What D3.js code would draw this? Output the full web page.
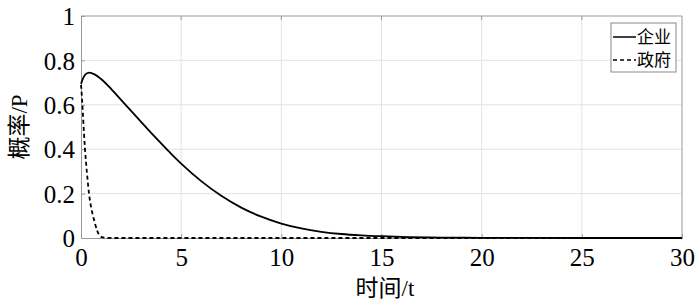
<!DOCTYPE html>
<html>
<head>
<meta charset="utf-8">
<script src="https://cdn.jsdelivr.net/npm/d3@7"></script>
<style>
  body { margin: 0; background: #fff; }
  svg text { fill: #000; }
  .serif { font-family: "Liberation Serif", "DejaVu Serif", "Times New Roman", serif; }
  .cjk { font-family: "Noto Sans CJK SC", sans-serif; }
</style>
</head>
<body>
<svg width="700" height="306"></svg>
<script>
// 企业 (company) probability over time
var tCompany = [0, 0.2, 0.4, 0.7, 1, 1.5, 2, 2.5, 3, 3.5, 4, 4.5, 5, 6, 7, 8, 9, 10, 11, 12, 13, 14, 15, 16, 18, 20, 25, 30];
var company = [0.695, 0.735, 0.745, 0.736, 0.716, 0.672, 0.622, 0.573, 0.523, 0.474, 0.426, 0.379, 0.335, 0.256, 0.19, 0.137, 0.096, 0.065, 0.043, 0.028, 0.018, 0.012, 0.008, 0.005, 0.002, 0.001, 0, 0];
// 政府 (government)
var tGov = [0, 0.05, 0.1, 0.15, 0.2, 0.3, 0.4, 0.5, 0.6, 0.7, 0.8, 0.9, 1.0, 1.2, 1.5, 30];
var gov = [0.69, 0.63, 0.55, 0.47, 0.40, 0.29, 0.2, 0.14, 0.1, 0.065, 0.035, 0.015, 0.005, 0.001, 0, 0];

var xTicks = [0, 5, 10, 15, 20, 25, 30];
var yTicks = [0, 0.2, 0.4, 0.6, 0.8, 1];
var seriesNames = ["企业", "政府"];

var mLeft = 81, mRight = 682, mTop = 16, mBottom = 238;
var svg = d3.select("svg");

var x = d3.scaleLinear().domain([0, 30]).range([mLeft, mRight]);
var y = d3.scaleLinear().domain([0, 1]).range([mBottom, mTop]);

// grid
svg.append("g").selectAll("line")
  .data(xTicks.slice(1, -1))
  .enter().append("line")
  .attr("x1", function(d) { return x(d); })
  .attr("x2", function(d) { return x(d); })
  .attr("y1", mTop).attr("y2", mBottom)
  .attr("stroke", "#e3e3e3").attr("stroke-width", 1);
svg.append("g").selectAll("line")
  .data(yTicks.slice(1, -1))
  .enter().append("line")
  .attr("x1", mLeft).attr("x2", mRight)
  .attr("y1", function(d) { return y(d); })
  .attr("y2", function(d) { return y(d); })
  .attr("stroke", "#e3e3e3").attr("stroke-width", 1);

// axes (inner ticks)
var xAxis = d3.axisBottom(x).tickValues(xTicks).tickSize(-4).tickPadding(10).tickFormat(d3.format("d"));
var yAxis = d3.axisLeft(y).tickValues(yTicks).tickSize(-4).tickPadding(6).tickFormat(function(d) { return d; });

var gx = svg.append("g").attr("transform", "translate(0," + mBottom + ")").call(xAxis);
var gy = svg.append("g").attr("transform", "translate(" + mLeft + ",0)").call(yAxis);
[gx, gy].forEach(function(g) {
  g.attr("font-family", null).attr("font-size", null);
  g.selectAll("path").attr("stroke", "#999");
  g.selectAll("line").attr("stroke", "#999");
  g.selectAll("text").attr("class", "serif").style("font-size", "25px").attr("fill", "#000");
});
gx.selectAll("text").attr("dy", "0.71em");
gy.selectAll("text").attr("dy", "0.35em");

// top & right border
svg.append("line").attr("x1", mLeft).attr("x2", mRight).attr("y1", mTop).attr("y2", mTop).attr("stroke", "#999");
svg.append("line").attr("x1", mRight).attr("x2", mRight).attr("y1", mTop).attr("y2", mBottom).attr("stroke", "#999");
// top ticks
svg.append("g").selectAll("line")
  .data(xTicks.slice(1, -1))
  .enter().append("line")
  .attr("x1", function(d) { return x(d); })
  .attr("x2", function(d) { return x(d); })
  .attr("y1", mTop).attr("y2", mTop + 4)
  .attr("stroke", "#999");

// lines
var line = d3.line().curve(d3.curveMonotoneX)
  .x(function(d) { return x(d[0]); })
  .y(function(d) { return y(d[1]); });

svg.append("path")
  .datum(d3.zip(tCompany, company))
  .attr("d", line)
  .attr("fill", "none").attr("stroke", "#000").attr("stroke-width", 1.8);

svg.append("path")
  .datum(d3.zip(tGov, gov))
  .attr("d", line)
  .attr("fill", "none").attr("stroke", "#000").attr("stroke-width", 1.8)
  .attr("stroke-dasharray", "4,3");

// axis titles
var xt = svg.append("text")
  .attr("x", 385).attr("y", 296)
  .attr("text-anchor", "middle")
  .style("font-size", "23px");
xt.append("tspan").attr("class", "cjk").text("时间");
xt.append("tspan").attr("class", "serif").text("/t");

var yt = svg.append("text")
  .attr("transform", "translate(27,127) rotate(-90)")
  .attr("text-anchor", "middle")
  .style("font-size", "23px");
yt.append("tspan").attr("class", "cjk").text("概率");
yt.append("tspan").attr("class", "serif").text("/P");

// legend
var lg = svg.append("g");
lg.append("rect")
  .attr("x", 611).attr("y", 23).attr("width", 65).attr("height", 49)
  .attr("fill", "#fff").attr("stroke", "#888").attr("stroke-width", 1);
var items = lg.selectAll("g")
  .data(seriesNames)
  .enter().append("g")
  .attr("transform", function(d, i) { return "translate(0," + (37 + i * 23) + ")"; });
items.append("line")
  .attr("x1", 613).attr("x2", 636).attr("y1", 0).attr("y2", 0)
  .attr("stroke", "#000").attr("stroke-width", 1.5)
  .attr("stroke-dasharray", function(d, i) { return i === 1 ? "4,3" : null; });
items.append("text")
  .attr("x", 637).attr("y", 0).attr("dy", "0.36em")
  .attr("class", "cjk")
  .style("font-size", "17px")
  .text(function(d) { return d; });
</script>
</body>
</html>
